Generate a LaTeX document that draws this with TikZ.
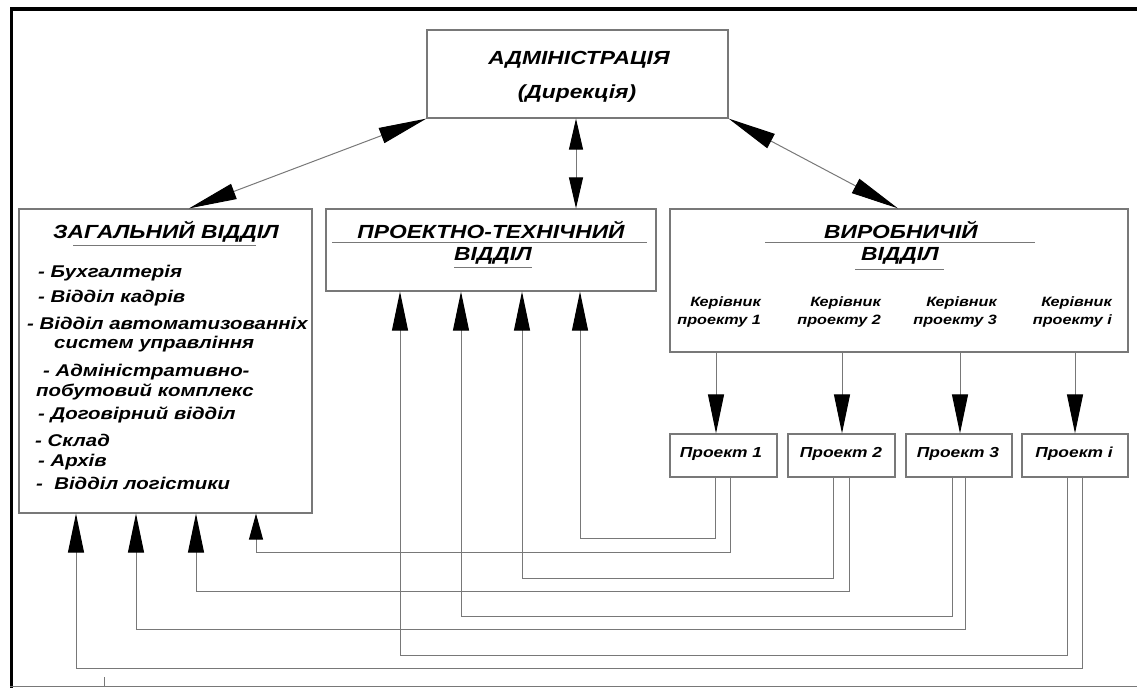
\documentclass[tikz,border=0pt]{standalone}
\usepackage{fontspec}
\setmainfont{Liberation Sans}
\newfontfamily\df[FakeStretch=1.2]{Liberation Sans}
\usetikzlibrary{arrows.meta}
\definecolor{ln}{RGB}{120,120,120}
\tikzset{
  box/.style={draw=ln, line width=1.2pt, inner sep=0pt, fill=none},
  conn/.style={draw=ln, line width=1pt},
  arr/.style={conn, -{Triangle[length=39pt,width=16pt,color=black]}},
  arrs/.style={conn, -{Triangle[length=26pt,width=14pt,color=black]}},
  darr/.style={conn, {Triangle[length=48pt,width=16pt,color=black]}-{Triangle[length=48pt,width=16pt,color=black]}},
  varr/.style={conn, {Triangle[length=31pt,width=14pt,color=black]}-{Triangle[length=31pt,width=14pt,color=black]}},
  ttl/.style={inner sep=0pt, font=\df\bfseries\itshape\fontsize{19}{21}\selectfont},
  itm/.style={inner sep=0pt, anchor=west, font=\df\bfseries\itshape\fontsize{17}{19}\selectfont},
  ker/.style={inner sep=0pt, anchor=east, align=right, font=\df\bfseries\itshape\fontsize{13.5}{18}\selectfont},
  prj/.style={inner sep=0pt, font=\df\bfseries\itshape\fontsize{14.5}{16}\selectfont},
  uline/.style={draw=ln, line width=1pt},
}
\begin{document}
\begin{tikzpicture}[x=1pt,y=-1pt]
\useasboundingbox (0,0) rectangle (1137,688);
% frame
\draw[line width=3.5pt, black] (10,9) -- (1137,9);
\draw[line width=3pt, black] (11.5,9) -- (11.5,688);
\draw[line width=1pt, ln] (10,686) -- (1137,686);
\draw[line width=1pt, ln] (104,677) -- (104,686);

% boxes
\node[box, minimum width=301pt, minimum height=88pt] (adm) at (577.5,74) {};
\node[box, minimum width=293pt, minimum height=304pt] (zag) at (165.5,361) {};
\node[box, minimum width=330pt, minimum height=82pt] (pt) at (491,250) {};
\node[box, minimum width=458pt, minimum height=143pt] (vyr) at (899,280.5) {};
\node[box, minimum width=107pt, minimum height=43pt] (p1) at (723.5,455.5) {};
\node[box, minimum width=107pt, minimum height=43pt] (p2) at (841.5,455.5) {};
\node[box, minimum width=106pt, minimum height=43pt] (p3) at (959,455.5) {};
\node[box, minimum width=106pt, minimum height=43pt] (pi) at (1075,455.5) {};

% texts
\node[ttl] (admt) at (579,60) {АДМІНІСТРАЦІЯ};
\node[ttl] (admd) at (577,94) {(Дирекція)};
\node[ttl] (zagt) at (166,232) {ЗАГАЛЬНИЙ ВІДДІЛ};
\draw[uline] (73,245) -- (256,245);
\node[ttl] (ptt1) at (491,230) {ПРОЕКТНО-ТЕХНІЧНИЙ};
\draw[uline] (332,242) -- (647,242);
\node[ttl] (ptt2) at (493,256) {ВІДДІЛ};
\draw[uline] (454,267) -- (532,267);
\node[ttl] (vyrt1) at (901,230) {ВИРОБНИЧІЙ};
\draw[uline] (765,242) -- (1035,242);
\node[ttl] (vyrt2) at (900,256) {ВІДДІЛ};
\draw[uline] (855,269) -- (944,269);

\node[itm] (l1) at (38,273) {- Бухгалтерія};
\node[itm] (l2) at (38,298) {- Відділ кадрів};
\node[itm] (l3) at (27,323) {- Відділ автоматизованніх};
\node[itm] (l4) at (54,344) {систем управління};
\node[itm] (l5) at (43,372) {- Адміністративно-};
\node[itm] (l6) at (36,392) {побутовий комплекс};
\node[itm] (l7) at (38,415) {- Договірний відділ};
\node[itm] (l8) at (35,440) {- Склад};
\node[itm] (l9) at (38,462) {- Архів};
\node[itm] (l10) at (36,483) {-\ \ Відділ логістики};

\node[ker] (k1) at (761,312) {Керівник\\проекту 1};
\node[ker] (k2) at (881,312) {Керівник\\проекту 2};
\node[ker] (k3) at (997,312) {Керівник\\проекту 3};
\node[ker] (k4) at (1112,312) {Керівник\\проекту і};

\node[prj] (p1t) at (721,454) {Проект 1};
\node[prj] (p2t) at (841,454) {Проект 2};
\node[prj] (p3t) at (958,454) {Проект 3};
\node[prj] (p4t) at (1074,454) {Проект і};

% admin connectors
\draw[darr] (adm.south west) -- (zag.north -| 189,0);
\draw[varr] (adm.south -| 576,0) -- (pt.north -| 576,0);
\draw[darr] (adm.south east) -- (vyr.north -| 898,0);

% vyr -> projects
\draw[arr] (vyr.south -| 716,0) -- (p1.north -| 716,0);
\draw[arr] (vyr.south -| 842,0) -- (p2.north -| 842,0);
\draw[arr] (vyr.south -| 960,0) -- (p3.north -| 960,0);
\draw[arr] (vyr.south -| 1075,0) -- (pi.north -| 1075,0);

% projects -> pt / zag
\draw[arr] (p1.south -| 715,0) |- (580,538) -- (pt.south -| 580,0);
\draw[arrs] (p1.south -| 730,0) |- (256,552) -- (zag.south -| 256,0);
\draw[arr] (p2.south -| 833,0) |- (522,578) -- (pt.south -| 522,0);
\draw[arr] (p2.south -| 849,0) |- (196,591) -- (zag.south -| 196,0);
\draw[arr] (p3.south -| 952,0) |- (461,616) -- (pt.south -| 461,0);
\draw[arr] (p3.south -| 965,0) |- (136,629) -- (zag.south -| 136,0);
\draw[arr] (pi.south -| 1067,0) |- (400,655) -- (pt.south -| 400,0);
\draw[arr] (pi.south -| 1082,0) |- (76,668) -- (zag.south -| 76,0);
\end{tikzpicture}
\end{document}
